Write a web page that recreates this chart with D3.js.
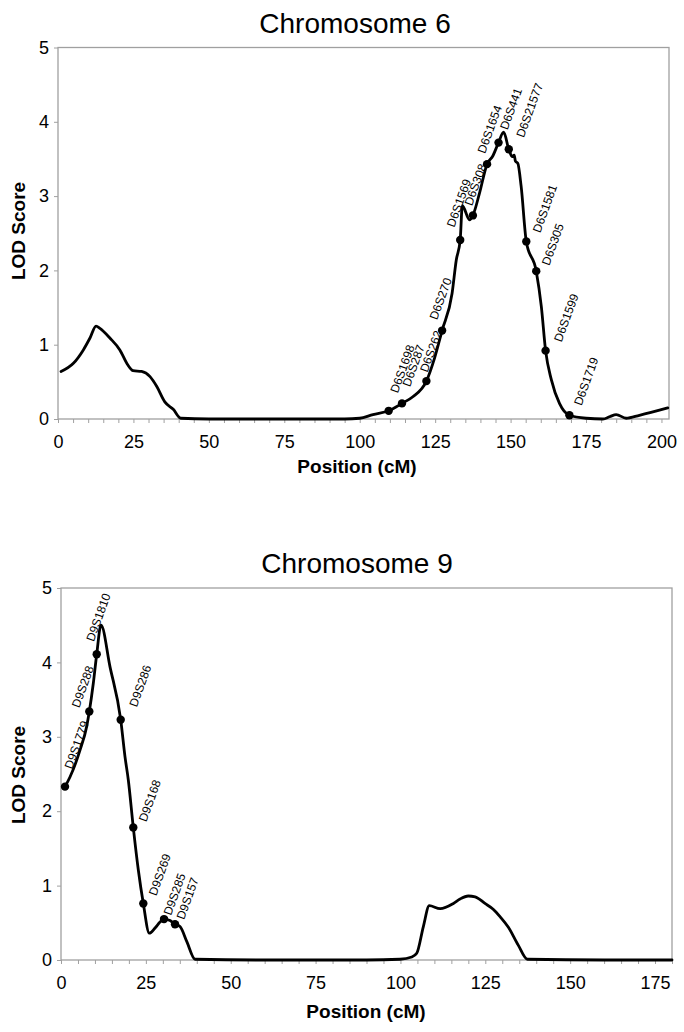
<!DOCTYPE html>
<html><head><meta charset="utf-8">
<script src="https://cdn.jsdelivr.net/npm/d3@7"></script>
<style>
body{margin:0;background:#fff}
svg{display:block}
text{font-family:"Liberation Sans",Arial,Helvetica,sans-serif;fill:#000}
</style>
</head><body>
<svg id="chart" width="684" height="1032"></svg>
<script>
// ---------------- DATA ----------------
const yTickValues = [0, 1, 2, 3, 4, 5];
const xTickLabels6 = [0, 25, 50, 75, 100, 125, 150, 175, 200];
const xTickLabels9 = [0, 25, 50, 75, 100, 125, 150, 175];

// Chromosome 6 LOD curve (cM, LOD)
const chr6Pos = [1.0, 5.1, 8.4, 10.6, 12.6, 13.9, 17.2, 20.5, 23.1, 24.9, 27.7, 30.5, 32.7, 35.4, 38.2, 40.7,
  50, 75, 95, 100, 104.4, 117.6, 124.8, 130.6, 132.0, 134.0, 136.4, 139.7, 144.1, 147.7,
  150.6, 151.2, 151.6, 152.4, 153.5, 160.2, 163.5, 166.2, 175.1, 180.6, 182.8, 185.0, 188.3, 192.7, 202.1];
const chr6Lod = [0.64, 0.75, 0.93, 1.09, 1.25, 1.22, 1.09, 0.93, 0.73, 0.65, 0.64, 0.57, 0.44, 0.23, 0.13, 0.01,
  0, 0, 0, 0.01, 0.06, 0.30, 0.82, 1.69, 2.14, 2.87, 2.68, 3.04, 3.54, 3.86,
  3.53, 3.55, 3.47, 3.44, 3.13, 1.51, 0.53, 0.21, 0.01, 0.0, 0.03, 0.06, 0.01, 0.05, 0.15];
// Chromosome 6 markers
const chr6Markers = ["D6S1698", "D6S287", "D6S262", "D6S270", "D6S1569", "D6S308", "D6S1654",
  "D6S441", "D6S21577", "D6S1581", "D6S305", "D6S1599", "D6S1719"];
const chr6MarkerPos = [109.6, 114.0, 122.1, 127.3, 133.3, 137.5, 142.2, 146.0, 149.4, 155.2, 158.5, 161.6, 169.5];
const chr6MarkerLod = [0.11, 0.21, 0.51, 1.19, 2.41, 2.74, 3.43, 3.72, 3.63, 2.39, 1.99, 0.92, 0.05];

// Chromosome 9 LOD curve (cM, LOD)
const chr9Pos = [2.65, 5.6, 7.57, 9.52, 11.79, 14.44, 18.86, 19.83, 22.78, 26.02, 27.7, 29.17, 32.12,
  35.06, 37.04, 39.48, 60, 90, 99.88, 103.33, 104.8, 106.75, 108.5, 111.7, 115.6, 117.56, 120.0,
  122.0, 124.9, 127.4, 129.4, 131.8, 134.7, 137.4, 160, 180];
const chr9Lod = [2.46, 2.82, 3.14, 3.72, 4.50, 3.94, 2.73, 2.42, 1.21, 0.36, 0.43, 0.51, 0.53,
  0.45, 0.25, 0.01, 0, 0, 0.01, 0.04, 0.09, 0.45, 0.73, 0.69, 0.76, 0.82, 0.86,
  0.85, 0.76, 0.68, 0.58, 0.44, 0.20, 0.01, 0, 0];
// Chromosome 9 markers
const chr9Markers = ["D9S1779", "D9S288", "D9S1810", "D9S286", "D9S168", "D9S269", "D9S285", "D9S157"];
const chr9MarkerPos = [1.18, 8.34, 10.52, 17.59, 21.3, 24.25, 30.35, 33.59];
const chr9MarkerLod = [2.33, 3.34, 4.11, 3.23, 1.78, 0.76, 0.55, 0.48];

// label nudges (pixels, relative to marker)
const chr6LabelNudge = [[9,-17],[8,-16],[1,-8],[-5,-10],[-6,-12],[-1,-9],[-2,-10],[9,-12],[15,-11],[14,-8],[13,-5],[16,-8],[12,-9]];
const chr9LabelNudge = [[7,-17],[-10,-3],[-3,-12],[16,-12],[13,-5],[13,-7],[7,-3],[9,-4]];

// ---------------- DRAW ----------------
const svg = d3.select("#chart");
const AXIS = "#a0a0a0";

function drawPanel(cfg) {
  const g = svg.append("g");
  const x = d3.scaleLinear().domain([0, cfg.xMax]).range([cfg.left, cfg.right]);
  const y = d3.scaleLinear().domain([0, 5]).range([cfg.bottom, cfg.top]);

  // frame
  g.append("rect")
    .attr("x", cfg.left).attr("y", cfg.top)
    .attr("width", cfg.right - cfg.left).attr("height", cfg.bottom - cfg.top)
    .attr("fill", "none").attr("stroke", AXIS).attr("stroke-width", 1.3);

  // x axis
  const minor = d3.range(0, cfg.xMax + 0.001, 5);
  const xa = g.append("g").attr("transform", `translate(0,${cfg.bottom})`)
    .call(d3.axisBottom(x).tickValues(minor).tickSize(4).tickPadding(12)
      .tickFormat(d => cfg.xLabels.includes(d) ? d : ""));
  xa.select(".domain").remove();
  xa.selectAll(".tick line").attr("stroke", AXIS).attr("stroke-width", 1);
  xa.selectAll(".tick text").attr("font-size", 18).attr("fill", "#000")
    .attr("font-family", '"Liberation Sans",Arial,sans-serif');

  // y axis
  const ya = g.append("g").attr("transform", `translate(${cfg.left},0)`)
    .call(d3.axisLeft(y).tickValues(yTickValues).tickSize(4).tickPadding(5).tickFormat(d3.format("d")));
  ya.select(".domain").remove();
  ya.selectAll(".tick line").attr("stroke", AXIS).attr("stroke-width", 1);
  ya.selectAll(".tick text").attr("font-size", 18).attr("fill", "#000")
    .attr("font-family", '"Liberation Sans",Arial,sans-serif');

  // curve (curve points merged with marker points)
  const pts = cfg.pos.map((p, i) => ({ p, v: cfg.lod[i] }))
    .concat(cfg.mPos.map((p, i) => ({ p, v: cfg.mLod[i] })))
    .sort((a, b) => a.p - b.p);
  const line = d3.line().x(d => x(d.p)).y(d => y(d.v)).curve(d3.curveMonotoneX);
  g.append("path").datum(pts).attr("d", line)
    .attr("fill", "none").attr("stroke", "#000").attr("stroke-width", 2.8)
    .attr("stroke-linejoin", "round").attr("stroke-linecap", "round");

  // markers
  g.selectAll("circle.m").data(cfg.mPos).join("circle")
    .attr("cx", d => x(d)).attr("cy", (d, i) => y(cfg.mLod[i])).attr("r", 4.2).attr("fill", "#000");

  // marker labels
  g.selectAll("text.ml").data(cfg.names).join("text")
    .attr("class", "ml")
    .attr("font-size", 12)
    .attr("transform", (d, i) => {
      const px = x(cfg.mPos[i]) + cfg.nudge[i][0];
      const py = y(cfg.mLod[i]) + cfg.nudge[i][1];
      return `translate(${px},${py}) rotate(-70)`;
    })
    .text(d => d);

  // titles
  g.append("text").attr("x", cfg.titleX).attr("y", cfg.titleY).attr("text-anchor", "middle")
    .attr("font-size", 28).text(cfg.title);
  g.append("text").attr("x", cfg.xTitleX).attr("y", cfg.xTitleY).attr("text-anchor", "middle")
    .attr("font-size", 19).attr("font-weight", "bold").text("Position (cM)");
  g.append("text").attr("transform", `translate(25,${cfg.yTitleY}) rotate(-90)`)
    .attr("text-anchor", "middle").attr("font-size", 19).attr("font-weight", "bold").text("LOD Score");
}

drawPanel({
  title: "Chromosome 6", xMax: 202.5, left: 58, right: 669, top: 47.5, bottom: 419,
  xLabels: xTickLabels6, pos: chr6Pos, lod: chr6Lod, names: chr6Markers,
  mPos: chr6MarkerPos, mLod: chr6MarkerLod, nudge: chr6LabelNudge,
  titleX: 355, titleY: 33, xTitleX: 357, xTitleY: 473, yTitleY: 231
});
drawPanel({
  title: "Chromosome 9", xMax: 180, left: 61, right: 672, top: 588, bottom: 960,
  xLabels: xTickLabels9, pos: chr9Pos, lod: chr9Lod, names: chr9Markers,
  mPos: chr9MarkerPos, mLod: chr9MarkerLod, nudge: chr9LabelNudge,
  titleX: 357, titleY: 573, xTitleX: 366, xTitleY: 1018, yTitleY: 775
});
</script>
</body></html>
